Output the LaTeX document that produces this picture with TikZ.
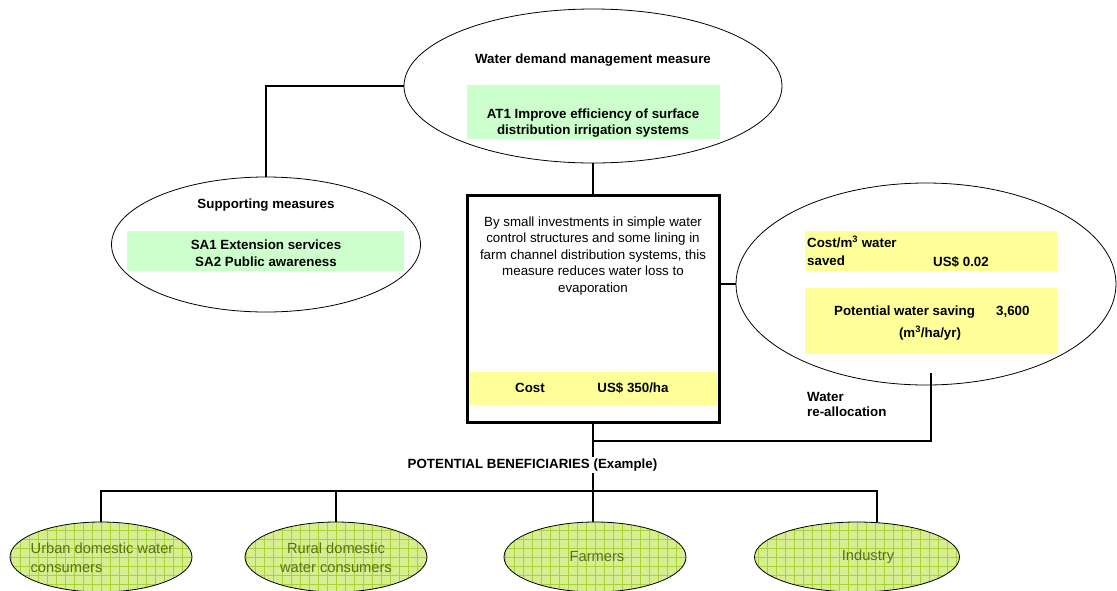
\documentclass[tikz,border=0pt]{standalone}
\usepackage{fontspec}
\setmainfont{Liberation Sans}
\usetikzlibrary{shapes.geometric}

\definecolor{boxgreen}{RGB}{204,255,204}
\definecolor{boxyellow}{RGB}{255,255,153}
\definecolor{benefill}{RGB}{214,237,146}
\definecolor{benegrid}{RGB}{168,212,50}
\definecolor{benetext}{RGB}{88,112,32}

\begin{document}
\begin{tikzpicture}[x=1pt, y=-1pt,
    % Define the styles for ovals, boxes, texts and connectors
    oval/.style={draw, ellipse, line width=0.8pt, inner sep=0pt},
    conn/.style={line width=2.8pt},
    txt/.style={font=\fontsize{13.33}{16.5}\selectfont, inner sep=0pt},
    bold/.style={font=\fontsize{13.33}{16.5}\selectfont\bfseries, inner sep=0pt},
    greenbox/.style={fill=boxgreen, inner sep=0pt},
    yellowbox/.style={fill=boxyellow, inner sep=0pt},
    benef/.style={oval, fill=benefill, minimum width=182pt, minimum height=70pt,
        path picture={\draw[benegrid, line width=0.5pt]
            (path picture bounding box.south west) grid[step=9pt]
            (path picture bounding box.north east);}},
    beneftxt/.style={font=\fontsize{14.67}{19}\selectfont, text=benetext, inner sep=0pt}
]
\useasboundingbox (0,0) rectangle (1117,590);

% Define the points where connectors meet
\coordinate (reall) at (931,373);
\coordinate (join) at (593,441);
\coordinate (bus) at (593,491);

% Water demand management measure
\node[oval, minimum width=378pt, minimum height=154pt] (wdm) at (593,86) {};
\node[bold] (wdmtitle) at (593,60) {Water demand management measure};
\node[greenbox, minimum width=253pt, minimum height=54pt] (at1box) at (593.5,112) {};
\node[bold, align=center] (at1) at (593,123) {AT1 Improve efficiency of surface\\distribution irrigation systems};

% Supporting measures
\node[oval, minimum width=309pt, minimum height=135pt] (sup) at (266,244.5) {};
\node[bold] (suptitle) at (266,205) {Supporting measures};
\node[greenbox, minimum width=277pt, minimum height=40pt] (sabox) at (265.5,251) {};
\node[bold, align=center] (sa) at (266,253) {SA1 Extension services\\SA2 Public awareness};

% Description and cost
\node[draw, line width=3pt, minimum width=252pt, minimum height=227pt, inner sep=0pt] (desc) at (593,308.5) {};
\node[txt, align=center] (desctxt) at (593,256) {By small investments in simple water\\control structures and some lining in\\farm channel distribution systems, this\\measure reduces water loss to\\evaporation};
\node[yellowbox, minimum width=248pt, minimum height=33pt] (costbox) at (593,388.5) {};
\node[bold] (costlbl) at (530,388) {Cost};
\node[bold] (costval) at (633,388) {US\$ 350/ha};

% Cost per m3 and potential saving
\node[oval, minimum width=380pt, minimum height=202pt] (costov) at (926,284) {};
\node[yellowbox, minimum width=252pt, minimum height=40pt] (m3box) at (931,251) {};
\node[bold, anchor=west] (m3lbl) at (807,242) {Cost/m\textsuperscript{3} water};
\node[bold, anchor=west] (m3lbl2) at (807,261) {saved};
\node[bold] (m3val) at (961,262) {US\$ 0.02};
\node[yellowbox, minimum width=252pt, minimum height=66pt] (savebox) at (931,321) {};
\node[bold, anchor=west] (savelbl) at (834,312) {Potential water saving};
\node[bold, anchor=west] (saveval) at (996,312) {3,600};
\node[bold] (saveunit) at (930,333) {(m\textsuperscript{3}/ha/yr)};
\node[bold, anchor=west, align=left, font=\fontsize{13.33}{15}\selectfont\bfseries] (realltxt) at (807,404.5) {Water\\re-allocation};

% Potential beneficiaries
\node[benef] (urban) at (101,557) {};
\node[beneftxt, align=left] (urbantxt) at (102,557.5) {Urban domestic water\\consumers};
\node[benef] (rural) at (336,557) {};
\node[beneftxt, align=center] (ruraltxt) at (336,557.5) {Rural domestic\\water consumers};
\node[benef] (farmers) at (595,557) {};
\node[beneftxt] (farmerstxt) at (597,557) {Farmers};
\node[benef, minimum width=205pt] (industry) at (857,557) {};
\node[beneftxt] (industrytxt) at (868,557) {Industry};

% Draw the connectors
\draw[conn] (wdm.west) -| (sup.north);
\draw[conn] (wdm.south) -- (desc.north);
\draw[conn] (desc.east |- costov.west) -- (costov.west);
\draw[conn] (reall) |- (join);
\draw[conn] (desc.south) -- (bus);
\draw[conn] (urban.north) |- (bus) -| (industry.60);
\draw[conn] (rural.north) -- (rural.north |- bus);
\draw[conn] (farmers.north -| bus) -- (bus);

% Label over the connector
\node[bold, fill=white, inner ysep=2pt] (potlabel) at (532.5,465) {POTENTIAL BENEFICIARIES (Example)};

\end{tikzpicture}
\end{document}
